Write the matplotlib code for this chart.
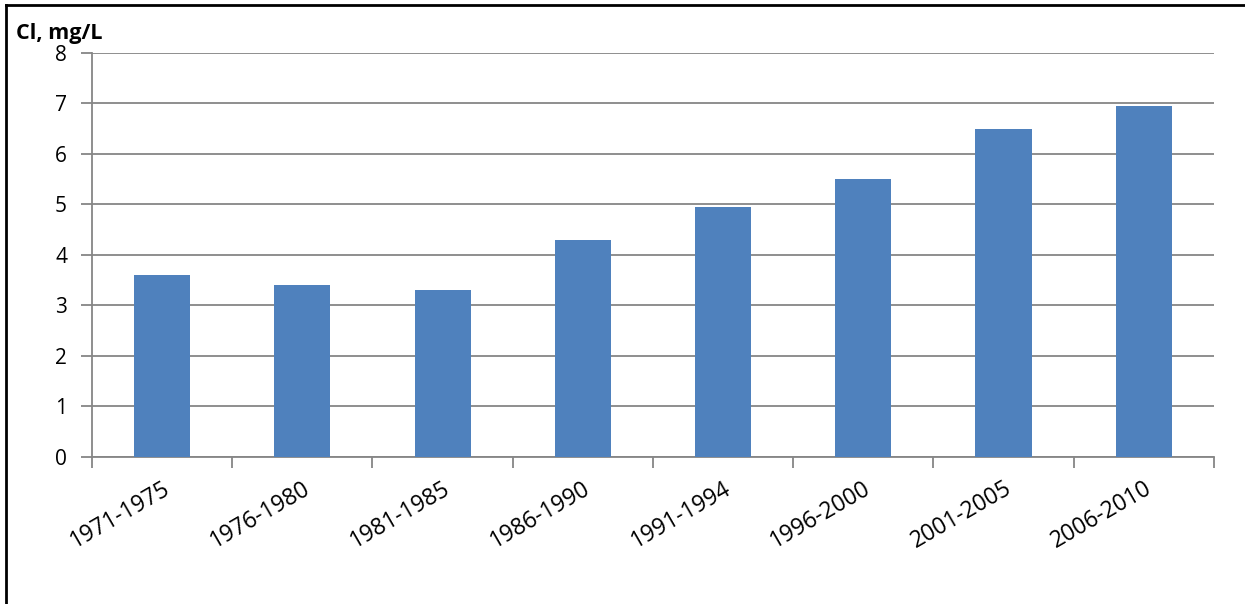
import matplotlib.pyplot as plt
import numpy as np
from matplotlib.lines import Line2D

periods = ["1971-1975", "1976-1980", "1981-1985", "1986-1990",
           "1991-1994", "1996-2000", "2001-2005", "2006-2010"]
chloride = [3.6, 3.4, 3.3, 4.3, 4.95, 5.5, 6.5, 6.95]

plt.rcParams['font.family'] = ['Open Sans', 'DejaVu Sans']

fig = plt.figure(figsize=(12.45, 6.04), dpi=100)
ax = fig.add_axes([0.0739, 0.2434, 0.9011, 0.6689])

x = np.arange(len(periods))
ax.bar(x, chloride, width=0.4, color="#4f81bd", zorder=3)

ax.set_xlim(-0.5, len(periods) - 0.5)
ax.set_ylim(0, 8)
ax.set_yticks(range(0, 9))
ax.yaxis.grid(True, color="#868686", linewidth=1.3, zorder=0)

# category labels between boundary ticks
ax.set_xticks(np.arange(-0.5, len(periods)), minor=False)
ax.set_xticklabels([])
ax.set_xticks(x, minor=True)
ax.set_xticklabels(periods, minor=True, rotation=30, ha="right",
                   rotation_mode="anchor", fontsize=16.5)
ax.tick_params(axis="x", which="minor", length=0, pad=14)
ax.tick_params(axis="x", which="major", length=8, color="#868686", width=1.3)
ax.tick_params(axis="y", length=8, color="#868686", width=1.3,
               labelsize=15, pad=10)

for side in ["top", "right"]:
    ax.spines[side].set_visible(False)
for side in ["left", "bottom"]:
    ax.spines[side].set_color("#868686")
    ax.spines[side].set_linewidth(1.3)

fig.text(0.013, 0.935, "Cl, mg/L", fontsize=15.5, fontweight="bold")

# outer frame on the left and top
fig.add_artist(Line2D([0.0045, 0.0045], [0, 0.991], color="black",
                      linewidth=2, transform=fig.transFigure))
fig.add_artist(Line2D([0.0045, 1], [0.991, 0.991], color="black",
                      linewidth=2, transform=fig.transFigure))

fig.savefig("out.png", dpi=100)
